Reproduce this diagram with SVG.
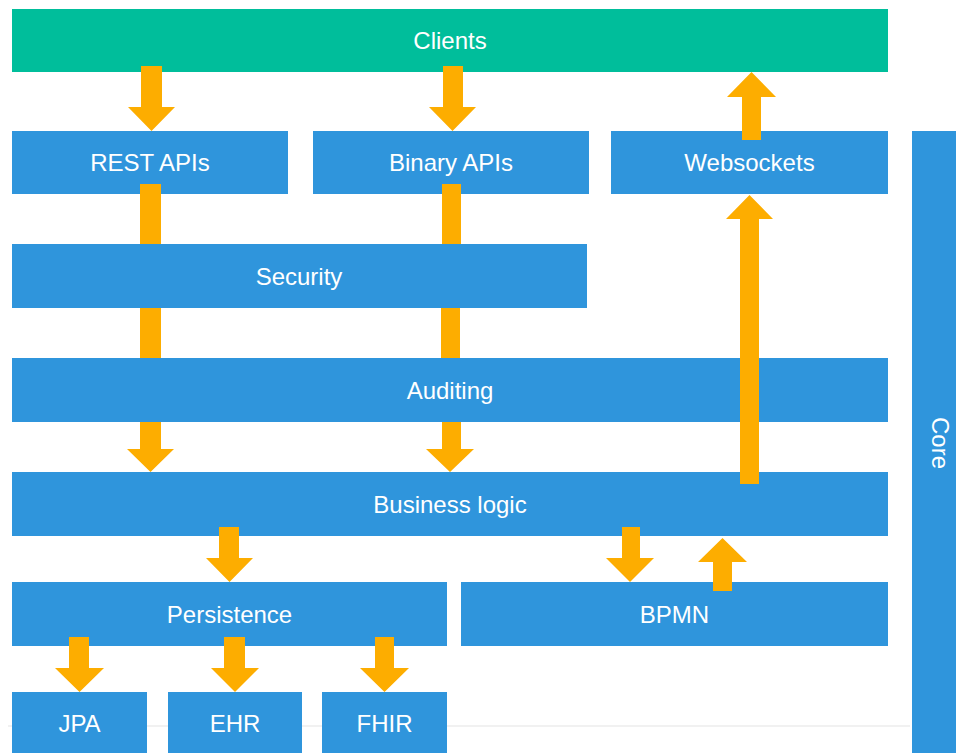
<svg xmlns="http://www.w3.org/2000/svg" width="956" height="753" viewBox="0 0 956 753">
  <style>
    .box { fill: #2f95dc; }
    .client { fill: #00be9b; }
    .lbl { fill: #ffffff; font-family: "Liberation Sans", Arial, Helvetica, sans-serif; font-size: 24px; text-anchor: middle; }
    .flow { fill: #fdad00; }
  </style>
  <rect x="0" y="0" width="956" height="753" fill="#ffffff"/>
  <!-- thin rule behind the storage row -->
  <line x1="8" y1="726" x2="910" y2="726" stroke="#ececec" stroke-width="1.5"/>

  <g id="clients">
    <rect class="client" x="12" y="9" width="876" height="63"/>
    <text class="lbl" x="450" y="49">Clients</text>
  </g>
  <g id="rest-apis">
    <rect class="box" x="12" y="131" width="276" height="63"/>
    <text class="lbl" x="150" y="171">REST APIs</text>
  </g>
  <g id="binary-apis">
    <rect class="box" x="313" y="131" width="276" height="63"/>
    <text class="lbl" x="451" y="171">Binary APIs</text>
  </g>
  <g id="websockets">
    <rect class="box" x="611" y="131" width="277" height="63"/>
    <text class="lbl" x="749.5" y="171">Websockets</text>
  </g>
  <g id="core">
    <rect class="box" x="912" y="131" width="50" height="630"/>
    <text class="lbl" transform="translate(940 443) rotate(90)" x="0" y="8.5">Core</text>
  </g>
  <g id="security">
    <rect class="box" x="12" y="244" width="575" height="64"/>
    <text class="lbl" x="299" y="284.5">Security</text>
  </g>
  <g id="auditing">
    <rect class="box" x="12" y="358" width="876" height="64"/>
    <text class="lbl" x="450" y="398.5">Auditing</text>
  </g>
  <g id="business-logic">
    <rect class="box" x="12" y="472" width="876" height="64"/>
    <text class="lbl" x="450" y="512.5">Business logic</text>
  </g>
  <g id="persistence">
    <rect class="box" x="12" y="582" width="435" height="64"/>
    <text class="lbl" x="229.5" y="622.5">Persistence</text>
  </g>
  <g id="bpmn">
    <rect class="box" x="461" y="582" width="427" height="64"/>
    <text class="lbl" x="674.5" y="622.5">BPMN</text>
  </g>
  <g id="jpa">
    <rect class="box" x="12" y="692" width="135" height="70"/>
    <text class="lbl" x="79.5" y="732">JPA</text>
  </g>
  <g id="ehr">
    <rect class="box" x="168" y="692" width="134" height="70"/>
    <text class="lbl" x="235" y="732">EHR</text>
  </g>
  <g id="fhir">
    <rect class="box" x="322" y="692" width="125" height="70"/>
    <text class="lbl" x="384.5" y="732">FHIR</text>
  </g>

  <g id="connectors">
    <!-- Clients to REST APIs / Binary APIs -->
    <polygon class="flow" points="141,66 162,66 162,107 175,107 151.5,131 128,107 141,107"/>
    <polygon class="flow" points="443,66 463,66 463,107 476,107 452.5,131 429,107 443,107"/>
    <!-- Websockets up to Clients -->
    <polygon class="flow" points="742,140 761,140 761,97 776,97 751.5,72 727,97 742,97"/>
    <!-- REST APIs through Security to Auditing -->
    <rect class="flow" x="140" y="184" width="21" height="60"/>
    <rect class="flow" x="140" y="308" width="21" height="50"/>
    <!-- Binary APIs through Security to Auditing -->
    <rect class="flow" x="442" y="184" width="19" height="60"/>
    <rect class="flow" x="441" y="308" width="19" height="50"/>
    <!-- Auditing to Business logic -->
    <polygon class="flow" points="140,422 161,422 161,449 174,449 150.5,472 127,449 140,449"/>
    <polygon class="flow" points="442,422 461,422 461,449 474,449 450,472 426,449 442,449"/>
    <!-- Business logic up to Websockets -->
    <polygon class="flow" points="740,484 759,484 759,219 773,219 749.5,195 726,219 740,219"/>
    <!-- Business logic to Persistence -->
    <polygon class="flow" points="219,527 239,527 239,558 253,558 229.5,582 206,558 219,558"/>
    <!-- Business logic and BPMN -->
    <polygon class="flow" points="622,527 640,527 640,558 654,558 630,582 606,558 622,558"/>
    <polygon class="flow" points="713,591 732,591 732,562 747,562 722.5,538 698,562 713,562"/>
    <!-- Persistence to storage backends -->
    <polygon class="flow" points="69,637 89,637 89,668 104,668 79.5,692 55,668 69,668"/>
    <polygon class="flow" points="224,637 245,637 245,668 259,668 235,692 211,668 224,668"/>
    <polygon class="flow" points="375,637 394,637 394,668 409,668 384.5,692 360,668 375,668"/>
  </g>
</svg>
